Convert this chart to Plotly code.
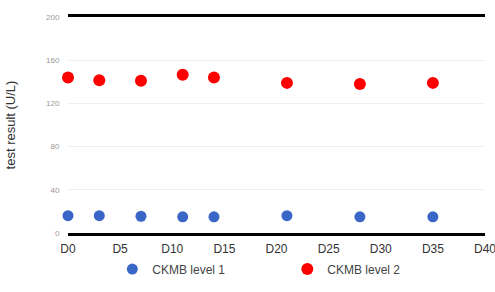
import plotly.graph_objects as go

days = [0, 3, 7, 11, 14, 21, 28, 35]
level1 = [16, 16, 15.5, 15, 15, 16, 15, 15]
level2 = [144, 141.5, 141, 146.5, 144, 139, 138, 139]
tick_days = [0, 5, 10, 15, 20, 25, 30, 35, 40]
tick_labels = ["D0", "D5", "D10", "D15", "D20", "D25", "D30", "D35", "D40"]
y_ticks = [0, 40, 80, 120, 160, 200]

fig = go.Figure()
fig.add_trace(go.Scatter(x=days, y=level1, mode="markers", name="CKMB level 1",
                         cliponaxis=False,
                         marker=dict(color="#3a66c8", size=11)))
fig.add_trace(go.Scatter(x=days, y=level2, mode="markers", name="CKMB level 2",
                         cliponaxis=False,
                         marker=dict(color="#ff0000", size=12)))

fig.update_layout(
    width=495, height=292,
    margin=dict(l=68, r=10, t=17, b=59, autoexpand=False),
    plot_bgcolor="white", paper_bgcolor="white",
    font=dict(family="Liberation Sans, Arial, sans-serif", color="#333"),
    xaxis=dict(range=[0, 40], tickvals=tick_days, ticktext=tick_labels,
               showline=True, mirror=True, linecolor="black", linewidth=2.5,
               showgrid=False, zeroline=False, ticks="outside", ticklen=3,
               tickcolor="rgba(0,0,0,0)", ticklabeloverflow="allow",
               tickfont=dict(size=12, color="#333")),
    yaxis=dict(range=[0, 200], tickvals=y_ticks, showline=False,
               showgrid=True, gridcolor="#f0f0f0", gridwidth=1, zeroline=False,
               tickfont=dict(size=8, color="#999"), ticks="outside", ticklen=6,
               tickcolor="rgba(0,0,0,0)",
               title=dict(text="test result (U/L)", font=dict(size=13, color="#333"),
                          standoff=27)),
    legend=dict(orientation="h", x=0.526, xanchor="center", y=-0.1, yanchor="top",
                font=dict(size=12, color="#444"), entrywidth=130,
                entrywidthmode="pixels"),
)

fig.write_html("out.html", config={"displayModeBar": False},
               post_script="document.body.style.margin='0';document.body.style.overflow='hidden';")
